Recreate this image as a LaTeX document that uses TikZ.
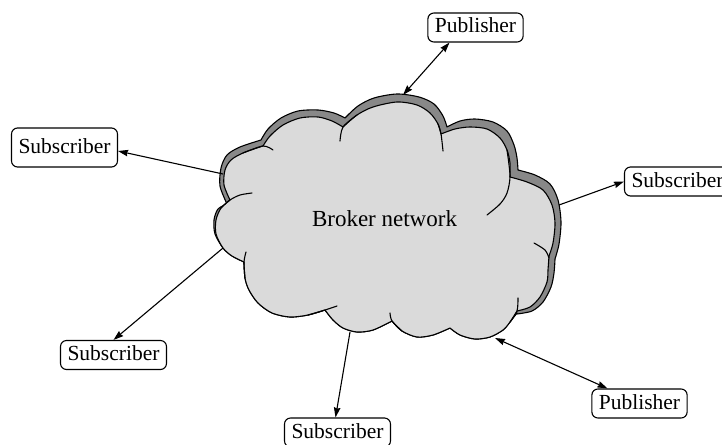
\documentclass[tikz,border=0pt]{standalone}
\usepackage{fontspec}
\setmainfont{Liberation Serif}
\usetikzlibrary{arrows.meta}

% Outline of the broker cloud, one smooth plot per lobe
\newcommand{\brokercloud}{%
  (230,200)
  -- plot[smooth] coordinates {(230,200)(224,185)(225,170)(231,160)(243,153)(263,146)}
  -- plot[smooth] coordinates {(263,146)(270,136)(283,125)(300,118)(318,117)(332,121)(343,127)}
  -- plot[smooth] coordinates {(343,127)(357,115)(373,107)(397,102)(417,105)(430,113)(438,124)(441,134)}
  -- plot[smooth] coordinates {(441,134)(455,129)(470,127)(487,129)(500,138)(507,150)(510,163)(510,177)}
  -- plot[smooth] coordinates {(510,177)(527,182)(543,190)(552,205)(555,223)(553,243)(549,256)}
  -- plot[smooth] coordinates {(549,256)(548,270)(547,282)(540,297)(530,307)(517,311)}
  -- plot[smooth] coordinates {(517,311)(510,322)(503,330)(490,337)(475,339)(460,335)(450,328)}
  -- plot[smooth] coordinates {(450,328)(433,335)(417,337)(402,331)(392,321)}
  -- plot[smooth] coordinates {(392,321)(373,330)(357,332)(343,328)(333,320)(325,310)}
  -- plot[smooth] coordinates {(325,310)(308,315)(290,317)(272,313)(258,303)(249,290)(245,278)(244,262)}
  -- plot[smooth] coordinates {(244,262)(232,256)(223,248)(216,234)(216,220)(221,208)(230,200)}
  -- cycle}

% The raised back layer: pushed up and outwards on the top and right
\newcommand{\brokershadow}{%
  (227,204)
  -- plot[smooth] coordinates {(227,204)(220,186)(221,168)(227,155)(240,147)(261,140)}
  -- plot[smooth] coordinates {(261,140)(268,129)(281,118)(298,111)(318,110)(334,113)(345,118)}
  -- plot[smooth] coordinates {(345,118)(358,106)(374,98)(397,94)(419,97)(434,104)(443,116)(447,127)}
  -- plot[smooth] coordinates {(447,127)(460,121)(475,119)(493,122)(507,131)(514,145)(517,158)(518,170)}
  -- plot[smooth] coordinates {(518,170)(535,175)(550,184)(558,200)(561,222)(559,244)(555,259)}
  -- plot[smooth] coordinates {(555,259)(554,273)(551,287)(543,302)(532,311)(517,314)}
  -- plot[smooth] coordinates {(517,313)(510,322)(503,330)(490,337)(475,339)(460,335)(450,328)}
  -- plot[smooth] coordinates {(450,328)(433,335)(417,337)(402,331)(392,321)}
  -- plot[smooth] coordinates {(392,321)(373,330)(357,332)(343,328)(333,320)(325,310)}
  -- plot[smooth] coordinates {(325,310)(308,315)(290,317)(272,313)(258,303)(249,290)(245,278)(244,262)}
  -- plot[smooth] coordinates {(244,262)(232,256)(223,248)(215,234)(214,220)(218,209)(227,204)}
  -- cycle}

\definecolor{cloudfront}{HTML}{DADADA}
\definecolor{cloudback}{HTML}{888888}

\tikzset{
  cloudline/.style={line width=1.1pt, line join=round, line cap=round},
  party/.style={draw, line width=1.1pt, rounded corners=6pt, fill=white,
    font=\fontsize{21.5}{24}\selectfont, inner xsep=7pt, inner ysep=5pt,
    text height=15pt, text depth=4pt},
  link/.style={line width=1.1pt, >={Stealth[length=10pt,width=6.5pt,inset=1pt]}}
}

\begin{document}
\begin{tikzpicture}[x=1pt, y=-1pt]
  \clip (0,0) rectangle (722,444);

  % back layer
  \filldraw[cloudline, fill=cloudback] \brokershadow;

  % front layer
  \filldraw[cloudline, fill=cloudfront] \brokercloud;

  % inner strokes where the lobes overlap
  \draw[cloudline] plot[smooth] coordinates {(243,153)(263,146)(273,150)};
  \draw[cloudline] plot[smooth] coordinates {(357,115)(343,127)(340,141)};
  \draw[cloudline] plot[smooth] coordinates {(438,124)(441,134)(443,151)};
  \draw[cloudline] plot[smooth] coordinates {(507,150)(510,176)(507,193)(500,204)(487,215)};
  \draw[cloudline] plot[smooth] coordinates {(534,243)(545,250)(549,258)};
  \draw[cloudline] plot[smooth] coordinates {(510,322)(517,311)(518,298)};
  \draw[cloudline] plot[smooth] coordinates {(402,331)(392,321)(390,313)};
  \draw[cloudline] plot[smooth] coordinates {(308,315)(325,310)(337,306)};
  \draw[cloudline] plot[smooth] coordinates {(245,278)(244,262)(246,252)};
  \draw[cloudline] plot[smooth] coordinates {(221,208)(230,200)(240,195)(252,193)};

  \node[font=\fontsize{23}{26}\selectfont] (broker) at (384.5,219) {Broker network};

  % attachment points on the cloud rim
  \coordinate (cTop) at (403,95);
  \coordinate (cLeftUp) at (223,174);
  \coordinate (cRight) at (559,205);
  \coordinate (cLeftLow) at (223,248);
  \coordinate (cBottom) at (350,332);
  \coordinate (cBottomRight) at (495,338);

  % clients
  \node[party] (pubTop) at (475.5,27.5) {Publisher};
  \node[party, minimum height=39pt] (subLeft) at (64.5,147.5) {Subscriber};
  \node[party] (subRight) at (677.5,181.5) {Subscriber};
  \node[party] (subLowLeft) at (113.5,355) {Subscriber};
  \node[party] (subBottom) at (337.5,432.5) {Subscriber};
  \node[party] (pubBottom) at (639.5,403.5) {Publisher};

  % connectors
  \draw[link, <->] ([xshift=-26pt]pubTop.south) -- (cTop);
  \draw[link, ->] (cLeftUp) -- ([yshift=-3.5pt]subLeft.east);
  \draw[link, ->] (cRight) -- (subRight.west);
  \draw[link, ->] (cLeftLow) -- (subLowLeft.north);
  \draw[link, ->] (cBottom) -- ([xshift=-2pt]subBottom.north);
  \draw[link, <->] (cBottomRight) -- ([xshift=-32pt]pubBottom.north);
\end{tikzpicture}
\end{document}
